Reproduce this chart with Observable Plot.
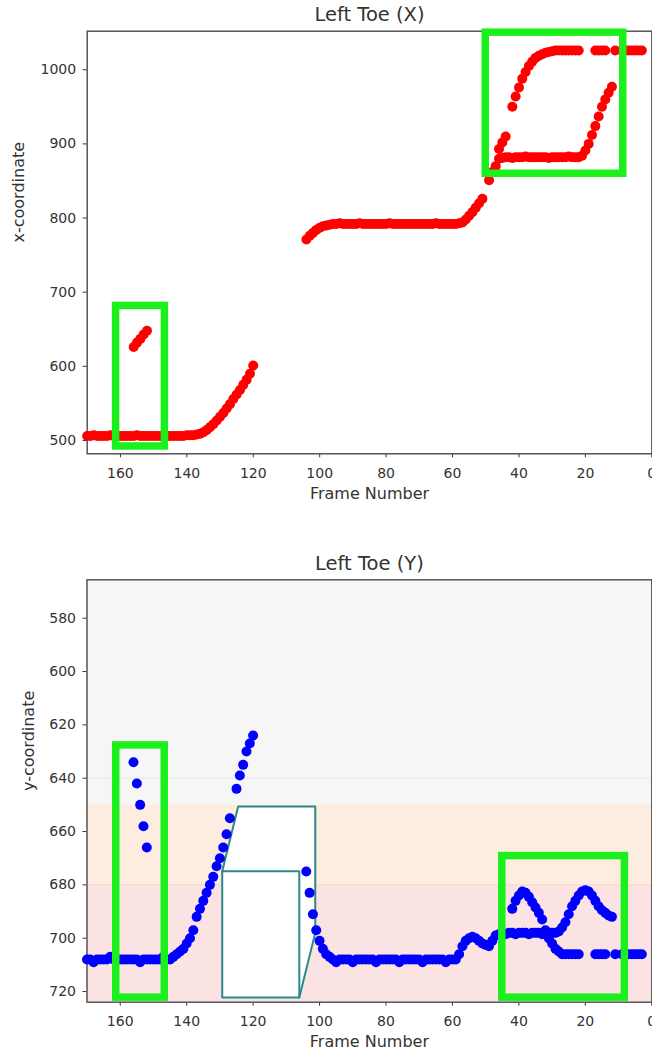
<!DOCTYPE html>
<html>
<head>
<meta charset="utf-8">
<script src="https://cdn.jsdelivr.net/npm/d3@7"></script>
<script src="https://cdn.jsdelivr.net/npm/@observablehq/plot@0.6"></script>
<style>
  html, body { margin: 0; padding: 0; background: #fff; }
  #wrap { position: relative; width: 652px; height: 1053px; overflow: hidden; }
  #top { position: absolute; left: 0; top: 0; }
  #bottom { position: absolute; left: 0; top: 540px; }
</style>
</head>
<body>
<div id="wrap"><div id="top"></div><div id="bottom"></div></div>
<script>
// ---------------- DATA ----------------
const xTicks = [160, 140, 120, 100, 80, 60, 40, 20, 0];
const xCoordTicks = [500, 600, 700, 800, 900, 1000];
const yCoordTicks = [580, 600, 620, 640, 660, 680, 700, 720];

// Left Toe (X) — red points; each series starts at a frame and counts down (null = no detection)
const xSegAStart = 170;
const xSegA = [506,506,507,506,506,506,506,507,506,506, 506,506,506,506,506,507,506,506,506,506,
  506,506,506,507,506,506,506,506,506,506, 507,507,507,
  508,509,511,514,518,522,527,532,537,543,549,556,562,568,575,582,590,601];
const xOutStart = 156;
const xOut = [626,632,637,643,648];
const xSegBStart = 104;
const xSegB = [771,776,780,784,787,789,790,791,
  792,792,793,792,792,792,792,792,793,792, 792,792,792,792,792,792,792,793,792,792,
  792,792,792,792,792,792,792,792,792,792, 792,793,792,792,792,792,792,792,793,
  794,798,803,808,814,820,826,null,851,862,870];
const xLowStart = 46;
const xLow = [880,881,
  882,882,881,882,882,882,883,882,882,882, 882,882,882,881,882,882,882,882,882,883, 882,882,882,
  884,891,900,912,924,937,950,960,969,977];
const xSmallStart = 46;
const xSmall = [893,902,910];
const xUpStart = 42;
const xUp = [950,964,976,988,997,1005,1011,1016,1019,1021,1023,1024,1025,
  1026,1026,1026,1026,1026,1026,1026,1026];
const lateFrames = [17,16,15,14,11,9,8,7,6,5,4,3];
const xLate = [1026,1026,1026,1026,1026,1026,1026,1026,1026,1026,1026,1026];

// Left Toe (Y) — blue points
const ySegAStart = 170;
const ySegA = [708,708,709,708,708,708,708,707,708,708, 708,708,708,708,708,708,709,708,708,708,
  708,708,708,707,708,708,707,
  706,705,704,702,700,697,692,689,686,683,680,677,673,670,666,661,655,null,644,639,635,630,627,624];
const yOutStart = 156;
const yOut = [634,642,650,658,666];
const ySegBStart = 104;
const ySegB = [675,683,691,697,701,704,706,707,
  708,709,708,708,708,708,709,708,708,708, 708,708,708,709,708,708,708,708,708,708,
  709,708,708,708,708,708,708,709,708,708, 708,708,708,708,709,708,708,
  708,706,703,701,700,699.5,700,701,702,702.5,703,701,699];
const yLowStart = 46;
const yLow = [698.5,698,698.5,698,698,698.5,698,698,698,698.5, 698,698,698,698.5,698,698,698,698,
  697.5,696,694,691,688,686,684,682.5,682,682.5,684,686,688,689.5,690.5,691.5,692];
const yUpStart = 42;
const yUp = [689,686,684,682.5,683,684.5,686.5,688.5,690.5,693,
  697,700,702,704,705,706, 706,706,706,706,706];
const yLate = [706,706,706,706,706,706,706,706,706,706,706,706];

// Shaded zones of the y-coordinate panel (value ranges)
const zoneNames = ["upper", "middle", "lower"];
const zoneLo = [565.6, 650, 680];
const zoneHi = [650, 680, 724];

// Annotation boxes, in data units (frame, coordinate)
const greenTopX1 = [161.3, 50.0], greenTopX2 = [146.6, 8.6];
const greenTopY1 = [491.9, 859.7], greenTopY2 = [681.4, 1050];
const greenBotX1 = [161.2, 45.0], greenBotX2 = [146.6, 8.1];
const greenBotY1 = [627.7, 669.2], greenBotY2 = [722.3, 722.3];
const boxOutlineF = [129.3, 124.5, 101.3, 101.3, 106.1, 129.3, 129.3];
const boxOutlineV = [674.9, 650.6, 650.6, 698.0, 722.2, 722.2, 674.9];
const boxFrontF = [129.3, 106.1, 106.1];
const boxFrontV = [674.9, 674.9, 722.2];

// ---------------- BUILD ----------------
const seq = (start, vals) => vals.map((v, i) => ({f: start - i, v})).filter(d => d.v != null);
const zip = (fs, vs) => fs.map((f, i) => ({f, v: vs[i]}));

const redPts = [].concat(
  seq(xSegAStart, xSegA), seq(xOutStart, xOut), seq(xSegBStart, xSegB),
  seq(xLowStart, xLow), seq(xSmallStart, xSmall), seq(xUpStart, xUp), zip(lateFrames, xLate));
const bluePts = [].concat(
  seq(ySegAStart, ySegA), seq(yOutStart, yOut), seq(ySegBStart, ySegB),
  seq(yLowStart, yLow), seq(yUpStart, yUp), zip(lateFrames, yLate));

const boxes = (x1, x2, y1, y2) => x1.map((_, i) => ({x1: x1[i], x2: x2[i], y1: y1[i], y2: y2[i]}));
const zones = zoneNames.map((n, i) => ({name: n, lo: zoneLo[i], hi: zoneHi[i]}));

const zoneColor = {upper: "#f6f6f6", middle: "#fdece0", lower: "#fce3e3"};
const GREEN = "#1cf01c", TEAL = "#2a8a8a", INK = "#333";
const FONT = "DejaVu Sans, Liberation Sans, sans-serif";

const common = {
  width: 652,
  style: {fontFamily: FONT, fontSize: "14px", color: INK, background: "transparent", overflow: "visible"}
};

const labels = (title, ylab, ydx) => [
  Plot.text([title], {frameAnchor: "top", lineAnchor: "middle", dy: -16, fontSize: 19.5, fill: INK}),
  Plot.text(["Frame Number"], {frameAnchor: "bottom", lineAnchor: "middle", dy: 40, fontSize: 16, fill: INK}),
  Plot.text([ylab], {frameAnchor: "left", lineAnchor: "middle", dx: ydx, rotate: -90, fontSize: 16, fill: INK})
];

const topPlot = Plot.plot({
  ...common,
  height: 510,
  marginTop: 30.7, marginBottom: 56.7, marginLeft: 86.7, marginRight: 0.7,
  x: {domain: [170, 0], ticks: xTicks, tickFormat: "d", tickSize: 4, tickPadding: 10, label: null},
  y: {domain: [482, 1052], ticks: xCoordTicks, tickFormat: "d", tickSize: 4, tickPadding: 7, label: null},
  marks: [
    Plot.frame({stroke: "#555", strokeWidth: 1.5}),
    Plot.dot(redPts, {x: "f", y: "v", r: 5, fill: "#ff0000", stroke: null}),
    Plot.rect(boxes(greenTopX1, greenTopX2, greenTopY1, greenTopY2),
      {x1: "x1", x2: "x2", y1: "y1", y2: "y2", fill: "none", stroke: GREEN, strokeWidth: 7.5}),
    ...labels("Left Toe (X)", "x-coordinate", -68)
  ]
});

const bottomPlot = Plot.plot({
  ...common,
  height: 513,
  marginTop: 39.3, marginBottom: 51.3, marginLeft: 86.5, marginRight: 0.7,
  x: {domain: [170, 0], ticks: xTicks, tickFormat: "d", tickSize: 4, tickPadding: 10, label: null},
  y: {domain: [565.6, 724], reverse: true, ticks: yCoordTicks, tickFormat: "d", tickSize: 4, tickPadding: 7, label: null},
  marks: [
    ...zones.map(z => Plot.rect([z], {y1: "lo", y2: "hi", fill: zoneColor[z.name]})),
    Plot.ruleY([640], {stroke: "#e6e6e6", strokeWidth: 1}),
    Plot.ruleY([680], {stroke: "#f5d3cb", strokeWidth: 1}),
    Plot.frame({stroke: "#555", strokeWidth: 1.5}),
    Plot.line(zip(boxOutlineF, boxOutlineV), {x: "f", y: "v", fill: "white", stroke: TEAL, strokeWidth: 2}),
    Plot.line(zip(boxFrontF, boxFrontV), {x: "f", y: "v", stroke: TEAL, strokeWidth: 2}),
    Plot.dot(bluePts, {x: "f", y: "v", r: 5, fill: "#0000ff", stroke: null}),
    Plot.rect(boxes(greenBotX1, greenBotX2, greenBotY1, greenBotY2),
      {x1: "x1", x2: "x2", y1: "y1", y2: "y2", fill: "none", stroke: GREEN, strokeWidth: 7.5}),
    ...labels("Left Toe (Y)", "y-coordinate", -58)
  ]
});

document.getElementById("top").appendChild(topPlot);
document.getElementById("bottom").appendChild(bottomPlot);
</script>
</body>
</html>
